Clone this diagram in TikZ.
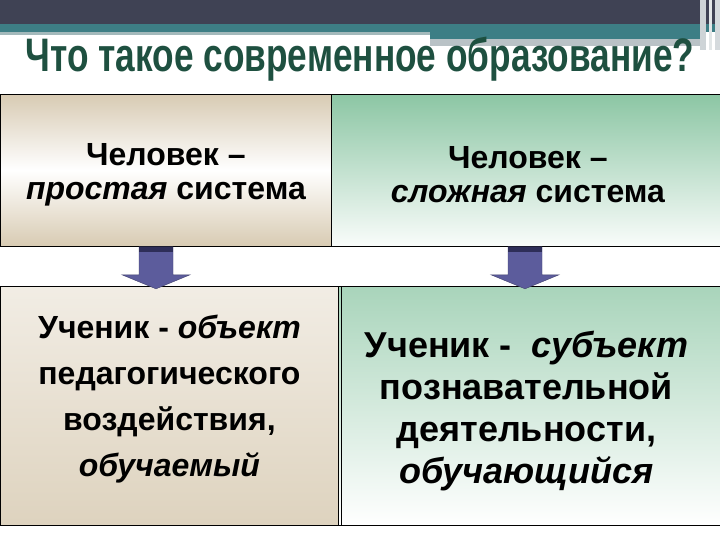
\documentclass[tikz,border=0pt]{standalone}
\usepackage{fontspec}
\setmainfont{Liberation Sans}
\newfontfamily\titlefont{Liberation Sans}[FakeStretch=0.75]
\newfontfamily\bodyfont{Liberation Sans}
\usetikzlibrary{positioning, calc}
\definecolor{bandDark}{HTML}{3F4254}
\definecolor{bandTeal}{HTML}{3D7E85}
\definecolor{bandLight}{HTML}{A3B9BB}
\definecolor{bandGray}{HTML}{B9C2C6}
\definecolor{titleGreen}{HTML}{1E5040}
\definecolor{beige}{HTML}{D8CBB3}
\definecolor{mint}{HTML}{8CC6A4}
\definecolor{arrowBlue}{HTML}{5C5C9C}
\definecolor{arrowDark}{HTML}{2E2E58}
\tikzset{
    panel/.style={
        draw=black,
        line width=0.8pt,
        anchor=north west,
        inner sep=0pt
    },
    tallpanel/.style={
        panel,
        minimum height=152pt
    },
    lowpanel/.style={
        panel,
        minimum height=239pt
    },
    paneltext/.style={
        align=center,
        inner sep=0pt,
        text=black
    },
    blockarrow/.style={fill=arrowBlue, draw=arrowBlue!70!black, line width=0.4pt}
}

\begin{document}
\begin{tikzpicture}[x=1pt,y=-1pt]
\useasboundingbox (0,0) rectangle (720,540);
\fill[white] (0,0) rectangle (720,540);

% header bands
\fill[bandDark] (0,0) rectangle (720,24);
\fill[bandTeal] (0,24) rectangle (720,32);
\fill[bandLight] (0,32) rectangle (430,35);
\fill[bandTeal] (430,32) rectangle (700,39);
\fill[bandGray] (430,39) rectangle (700,46);
\fill[bandGray!70] (700,0) rectangle (706,50);
\fill[bandGray!40] (709,0) rectangle (712,50);
\fill[bandGray!60] (715,0) rectangle (720,50);

\node[text=titleGreen, font=\titlefont\bfseries\fontsize{47}{47}\selectfont] (title) at (360,59) {Что такое современное образование?};

% upper row
\node[tallpanel, minimum width=331pt, top color=beige, bottom color=beige, middle color=white] (simple) at (0,94) {};
\node[tallpanel, minimum width=389pt, top color=mint, bottom color=white!95!mint] (complex) at (331,94) {};
\node[paneltext, font=\bodyfont\bfseries\fontsize{32}{34}\selectfont] (simpleText) at ($(simple.center)+(0,4)$)
    {Человек –\\\textit{простая} система};
\node[paneltext, font=\bodyfont\bfseries\fontsize{32}{34}\selectfont] (complexText) at ($(complex.center)+(2,4)$)
    {Человек –\\\textit{сложная} система};

% lower row
\node[lowpanel, minimum width=338pt, top color=beige!35, bottom color=beige!85] (object) at (0,286) {};
\node[lowpanel, minimum width=382pt, top color=mint!75, bottom color=white] (subject) at (338,286) {};
\draw[line width=0.8pt] (341,286) -- (341,525);
\draw[line width=0.8pt] (0,525) -- (720,525);
\node[paneltext, font=\bodyfont\bfseries\fontsize{32}{46}\selectfont] (objectText) at ($(object.center)+(0,-7)$)
    {Ученик - \textit{объект}\\педагогического\\воздействия,\\\textit{обучаемый}};
\node[paneltext, font=\bodyfont\bfseries\fontsize{36}{42}\selectfont] (subjectText) at ($(subject.center)+(-3,5)$)
    {Ученик -\ \ \textit{субъект}\\познавательной\\деятельности,\\\textit{обучающийся}};

% arrows between the rows
\coordinate (aL) at ($(simple.south west)+(156,0)$);
\coordinate (aR) at ($(complex.south west)+(194,0)$);
\foreach \a in {aL,aR}{
    \draw[blockarrow] (\a) +(-17,0) -- +(-17,28) -- +(-34,28) -- +(0,42)
        -- +(34,28) -- +(17,28) -- +(17,0) -- cycle;
    \fill[arrowDark] (\a) +(-17,0) rectangle +(17,5);
}
\end{tikzpicture}
\end{document}
